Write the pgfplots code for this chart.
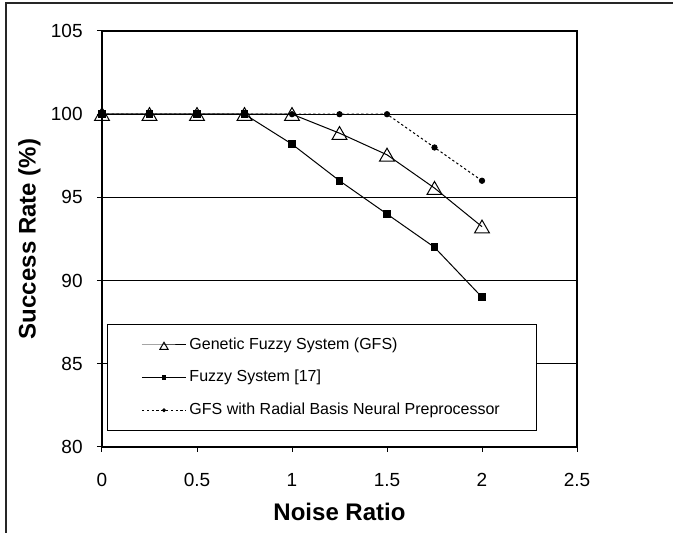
\documentclass[border=0pt]{standalone}
\usepackage{pgfplots}
\pgfplotsset{compat=1.18}
\usepackage{fontspec}
\setmainfont{Liberation Sans}[BoldFont={Liberation Sans Bold}]
\begin{document}
\begin{tikzpicture}
\useasboundingbox (-51pt,-43pt) rectangle (285.5pt,223.5pt);
\draw[line width=0.7pt, black!85] (-48pt,-60pt) -- (-48pt,222pt) -- (300pt,222pt);
\begin{axis}[
  at={(0pt,0pt)}, anchor=south west,
  scale only axis, width=237.5pt, height=208pt,
  xmin=0, xmax=2.5, ymin=80, ymax=105,
  xtick={0,0.5,1,1.5,2,2.5}, ytick={80,85,90,95,100,105},
  xtick pos=left, ytick pos=left, tick align=outside,
  major tick length=2.5pt,
  every tick/.style={black, line width=0.5pt},
  axis line style={black, line width=0.6pt},
  ymajorgrids, major grid style={black, line width=0.5pt},
  /pgf/number format/assume math mode=true,
  tick label style={font=\fontsize{9.5}{11}\selectfont},
  yticklabel style={inner sep=0pt, xshift=-7pt},
  xticklabel style={inner sep=0pt, yshift=-10.5pt},
  xlabel={\textbf{Noise Ratio}}, ylabel={\textbf{Success Rate (\%)}},
  every axis x label/.style={at={(axis description cs:0.5,-0.1563)}, anchor=center, font=\fontsize{12}{14}\selectfont},
  every axis y label/.style={at={(axis description cs:-0.1526,0.5)}, rotate=90, anchor=center, font=\fontsize{12}{14}\selectfont},
  legend style={at={(rel axis cs:0.0105,0.0385)}, anchor=south west,
    draw=black, line width=0.5pt, fill=white,
    font=\fontsize{8}{9.6}\selectfont,
    inner xsep=17pt, inner ysep=5pt, row sep=6pt,
    nodes={inner sep=1.5pt}},
  legend cell align=left,
  legend image code/.code={\draw[mark repeat=2,mark phase=2,#1,every mark/.append style={scale=0.55}] plot coordinates {(0pt,0pt)(11pt,0pt)(22pt,0pt)};},
]
\addplot[black, line width=0.5pt, mark=triangle, mark size=4.3pt,
  mark options={fill=white, solid, yshift=-1pt}]
  coordinates {(0,100)(0.25,100)(0.5,100)(0.75,100)(1,100)(1.25,98.86)(1.5,97.56)(1.75,95.56)(2,93.24)};
\addlegendentry{Genetic Fuzzy System (GFS)}
\addplot[black, line width=0.5pt, mark=square*, mark size=1.7pt, mark options={solid}]
  coordinates {(0,100)(0.25,100)(0.5,100)(0.75,100)(1,98.2)(1.25,96)(1.5,94)(1.75,92)(2,89)};
\addlegendentry{Fuzzy System [17]}
\addplot[black, line width=0.5pt, dash pattern=on 1.2pt off 1.2pt, mark=*, mark size=1.3pt, mark options={solid}]
  coordinates {(0,100)(0.25,100)(0.5,100)(0.75,100)(1,100)(1.25,100)(1.5,100)(1.75,98)(2,96)};
\addlegendentry{GFS with Radial Basis Neural Preprocessor}
\end{axis}
\end{tikzpicture}
\end{document}
